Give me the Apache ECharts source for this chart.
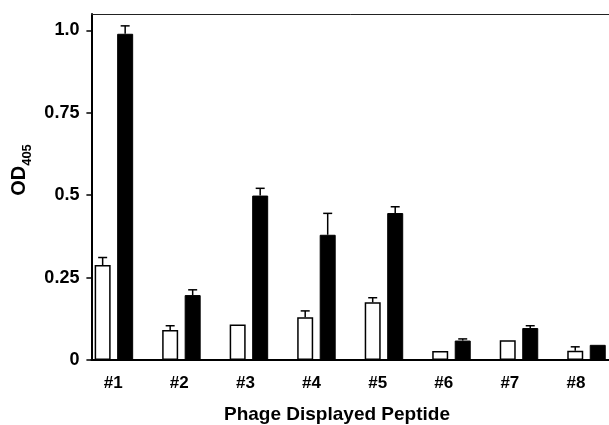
<!DOCTYPE html>
<html>
<head>
<meta charset="utf-8">
<script src="https://cdn.jsdelivr.net/npm/echarts@6/dist/echarts.min.js"></script>
<style>
html, body { margin: 0; padding: 0; background: #fff; }
#chart { width: 609px; height: 425px; }
</style>
</head>
<body>
<div id="chart"></div>
<script>
// peptide groups on the x axis
var groups = ['#1', '#2', '#3', '#4', '#5', '#6', '#7', '#8'];
// open bars
var openBars = [0.288, 0.091, 0.108, 0.130, 0.175, 0.027, 0.060, 0.028];
var openErr = [0.023, 0.013, 0, 0.019, 0.014, 0, 0, 0.012];
// filled bars
var filledBars = [0.990, 0.197, 0.499, 0.380, 0.446, 0.059, 0.097, 0.046];
var filledErr = [0.024, 0.016, 0.022, 0.065, 0.019, 0.005, 0.007, 0];
var yTicks = [0, 0.25, 0.5, 0.75, 1.0];

var FONT = 'Liberation Sans';

// each group takes 3 slots: open bar, filled bar, gap
var slotCount = groups.length * 3 - 1;
var slots = [];
var openData = [];
var filledData = [];
for (var s = 0; s < slotCount; s++) {
    slots.push('s' + s);
    openData.push('-');
    filledData.push('-');
}
var errData = [];
groups.forEach(function(g, i) {
    openData[i * 3] = openBars[i];
    filledData[i * 3 + 1] = filledBars[i];
    if (openErr[i] > 0) errData.push([i * 3, openBars[i], openErr[i]]);
    if (filledErr[i] > 0) errData.push([i * 3 + 1, filledBars[i], filledErr[i]]);
});

function errorBar(params, api) {
    var base = api.coord([api.value(0), api.value(1)]);
    var top = api.coord([api.value(0), api.value(1) + api.value(2)]);
    var style = { stroke: '#000', lineWidth: 1.5 };
    return {
        type: 'group',
        children: [
            { type: 'line', shape: { x1: base[0], y1: base[1], x2: top[0], y2: top[1] }, style: style },
            { type: 'line', shape: { x1: top[0] - 4.5, y1: top[1], x2: top[0] + 4.5, y2: top[1] }, style: style }
        ]
    };
}

var chart = echarts.init(document.getElementById('chart'));
chart.setOption({
    animation: false,
    backgroundColor: '#fff',
    title: {
        text: 'Phage Displayed Peptide',
        left: 219,
        top: 400,
        textStyle: { fontFamily: FONT, fontWeight: 'bold', fontSize: 19, color: '#000' }
    },
    grid: [
        { left: 91.4, top: 14, width: 518, height: 346 },
        { left: 80.15, top: 14, width: 540, height: 346 }
    ],
    xAxis: [
        {
            type: 'category',
            gridIndex: 0,
            data: slots,
            boundaryGap: true,
            axisLine: { lineStyle: { color: '#000', width: 2 } },
            axisTick: { alignWithLabel: true, interval: 0, length: 5, lineStyle: { color: '#000', width: 1.5 } },
            axisLabel: { show: false }
        },
        {
            type: 'category',
            gridIndex: 1,
            data: groups,
            axisLine: { show: false },
            axisTick: { show: false },
            axisLabel: { margin: 15, fontFamily: FONT, fontWeight: 'bold', fontSize: 17, color: '#000' }
        },
        {
            // top frame line only
            type: 'value',
            gridIndex: 0,
            position: 'top',
            min: 0,
            max: 1,
            axisLine: { show: true, lineStyle: { color: '#222', width: 1 } },
            axisTick: { show: false },
            axisLabel: { show: false },
            splitLine: { show: false }
        }
    ],
    yAxis: [
        {
            type: 'value',
            gridIndex: 0,
            min: 0,
            max: 1.05,
            interval: 0.25,
            name: '{a|OD}{b|405}',
            nameLocation: 'middle',
            nameGap: 56,
            nameTextStyle: {
                padding: [0, 0, 0, 34],
                rich: {
                    a: { fontFamily: FONT, fontWeight: 'bold', fontSize: 20, color: '#000', verticalAlign: 'bottom' },
                    b: { fontFamily: FONT, fontWeight: 'bold', fontSize: 13, color: '#000', verticalAlign: 'bottom', padding: [0, 0, -4, 0] }
                }
            },
            splitLine: { show: false },
            axisLine: { show: true, lineStyle: { color: '#000', width: 2 } },
            axisTick: { show: true, length: 5, lineStyle: { color: '#000', width: 1.5 } },
            axisLabel: {
                margin: 12,
                showMaxLabel: false,
                fontFamily: FONT,
                fontWeight: 'bold',
                fontSize: 18,
                color: '#000',
                formatter: function(v) {
                    var t = yTicks.indexOf(v);
                    if (t < 0) return '';
                    return v === 1 ? '1.0' : String(v);
                }
            }
        },
        { type: 'value', gridIndex: 1, show: false }
    ],
    series: [
        {
            name: 'open',
            type: 'bar',
            xAxisIndex: 0,
            yAxisIndex: 0,
            data: openData,
            barWidth: 16,
            barGap: '-100%',
            itemStyle: { color: '#fff', borderColor: '#000', borderWidth: 1.5 }
        },
        {
            name: 'filled',
            type: 'bar',
            xAxisIndex: 0,
            yAxisIndex: 0,
            data: filledData,
            barWidth: 16,
            barGap: '-100%',
            itemStyle: { color: '#000', borderColor: '#000', borderWidth: 1 }
        },
        {
            name: 'err',
            type: 'custom',
            xAxisIndex: 0,
            yAxisIndex: 0,
            data: errData,
            renderItem: errorBar,
            z: 3
        }
    ]
});
</script>
</body>
</html>
